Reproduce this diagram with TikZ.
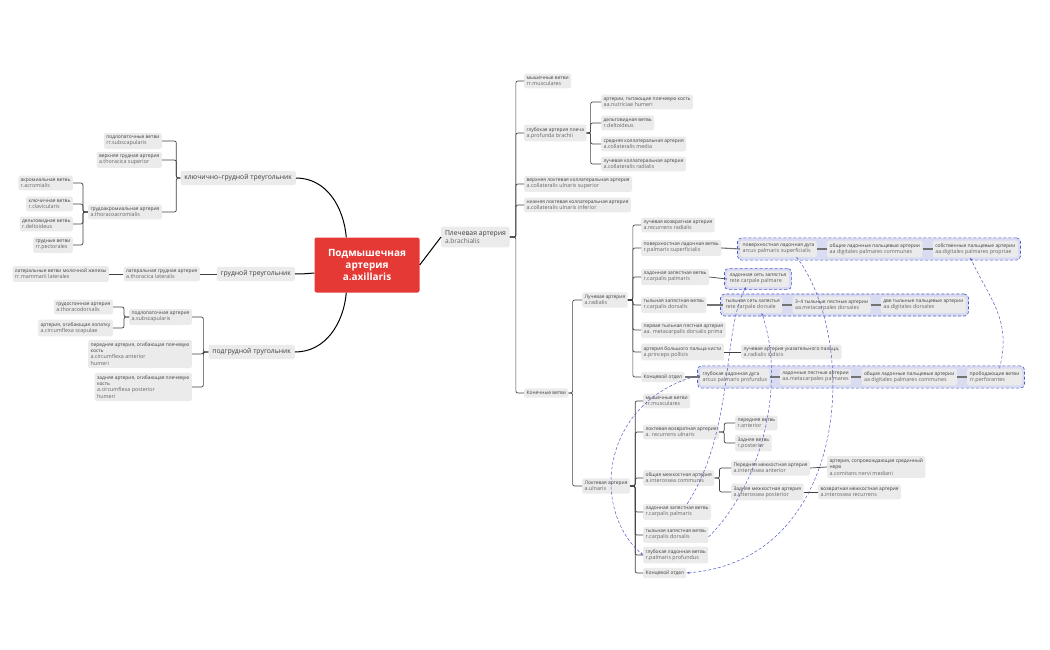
\documentclass[tikz,border=0pt]{standalone}
\usepackage{fontspec}
\setmainfont{Open Sans}
\usetikzlibrary{fit,backgrounds,arrows.meta}
\definecolor{axred}{HTML}{E53935}
\definecolor{gfill}{HTML}{D9DCF1}
\definecolor{gline}{HTML}{4F5BC4}
\newcommand{\la}[1]{{\fontsize{5.4}{6.4}\selectfont\color{black!60}#1}}
\newcommand{\tl}[2]{#1\\\la{#2}}
\begin{document}
\begin{tikzpicture}[x=1pt,y=-1pt,
 b/.style={fill=black!8,rounded corners=1.5pt,align=left,font=\fontsize{4.9}{6.2}\selectfont,text=black!75,inner xsep=2.4pt,inner ysep=2.8pt,anchor=west},
 bl/.style={b,anchor=east},
 big/.style={b,font=\fontsize{6.8}{8}\selectfont,inner sep=3.8pt,text=black!75},
 br/.style={draw=black!75,line width=0.7pt,rounded corners=2pt},
 ch/.style={draw=black!55,line width=1.1pt},
 grp/.style={draw=gline,densely dashed,fill=gfill,rounded corners=4pt,inner sep=2.5pt,line width=0.6pt},
 da/.style={draw=gline,densely dashed,line width=0.5pt,-{Stealth[length=3pt]}}]
\useasboundingbox (0,0) rectangle (1050,650);
% center
\node[fill=axred,rounded corners=2pt,text=white,font=\fontsize{10}{12}\selectfont\bfseries,align=center,minimum width=105pt,minimum height=55pt] (ax) at (367,265) {Подмышечная\\артерия\\a.axillaris};
% left
\node[big,anchor=east] (k1) at (296,178) {ключично–грудной треугольник};
\node[bl] (l1) at (162,141) {\tl{подлопаточные ветви}{rr.subscapularis}};
\node[bl] (l2) at (162,160) {\tl{верхняя грудная артерия}{a.thoracica superior}};
\node[bl] (l3) at (162,212) {\tl{грудоакромиальная артерия}{a.thoracoacromialis}};
\node[bl] (l31) at (73,183) {\tl{акромиальная ветвь}{r.acromialis}};
\node[bl] (l32) at (73,204) {\tl{ключичная ветвь}{r.clavicularis}};
\node[bl] (l33) at (73,224) {\tl{дельтовидная ветвь}{r.deltoideus}};
\node[bl] (l34) at (73,245) {\tl{грудные ветви}{rr.pectorales}};
\node[big,anchor=east] (k2) at (295,274) {грудной треугольник};
\node[bl] (m1) at (200,274) {\tl{латеральная грудная артерия}{a.thoracica lateralis}};
\node[bl] (m2) at (109,274) {\tl{латеральные ветви молочной железы}{rr.mammarii laterales}};
\node[big,anchor=east] (k3) at (295,352) {подгрудной тругольник};
\node[bl] (s1) at (192,317) {\tl{подлопаточная артерия}{a.subscapularis}};
\node[bl] (s11) at (113,307) {\tl{грудоспинная артерия}{a.thoracodorsalis}};
\node[bl] (s12) at (113,328) {\tl{артерия, огибающая лопатку}{a.circumflexa scapulae}};
\node[bl] (s2) at (192,354) {передняя артерия, огибающая плечевую\\кость\\\la{a.circumflexa anterior}\\\la{humeri}};
\node[bl] (s3) at (192,387) {задняя артерия, огибающая плечевую\\кость\\\la{a.circumflexa posterior}\\\la{humeri}};
\draw[line width=1pt] (k1.east) to[out=0,in=95] ([xshift=32pt]ax.north west);
\draw[line width=1pt] (k2.east) to[out=0,in=185] ([yshift=-8pt]ax.west);
\draw[line width=1pt] (k3.east) to[out=0,in=-95] ([xshift=32pt]ax.south west);
\foreach \c in {l1,l2,l3} \draw[br] (k1.west) -- ++(-4,0) |- (\c.east);
\foreach \c in {l31,l32,l33,l34} \draw[br] (l3.west) -- ++(-5,0) |- (\c.east);
\draw[br] (k2.west) -- (m1.east); \draw[br] (m1.west) -- (m2.east);
\foreach \c in {s1,s2,s3} \draw[br] (k3.west) -- ++(-5,0) |- (\c.east);
\foreach \c in {s11,s12} \draw[br] (s1.west) -- ++(-5,0) |- (\c.east);
% right
\node[big] (br) at (441,237) {Плечевая артерия\\{\fontsize{6.6}{8}\selectfont\color{black!60}a.brachialis}};
\draw[line width=1pt] (ax.east) -- (br.west);
\node[b] (b1) at (524,81) {\tl{мышечные ветви}{rr.musculares}};
\node[b] (b2) at (524,133) {\tl{глубокая артерия плеча}{a.profunda brachii}};
\node[b] (b3) at (524,184) {\tl{верхняя локтевая коллатеральная артерия}{a.collateralis ulnaris superior}};
\node[b] (b4) at (524,205) {\tl{нижняя локтевая коллатеральная артерия}{a.collateralis ulnaris inferior}};
\node[b] (b5) at (524,393) {Конечные ветви};
\foreach \c in {b1,b2,b3,b4,b5} \draw[br] (br.east) -- ++(6,0) |- (\c.west);
\node[b] (p1) at (601,102) {\tl{артерии, питающие плечевую кость}{aa.nutriciae humeri}};
\node[b] (p2) at (601,123) {\tl{дельтовидная ветвь}{r.deltoideus}};
\node[b] (p3) at (601,144) {\tl{средняя коллатеральная артерия}{a.collateralis media}};
\node[b] (p4) at (601,164) {\tl{лучевая коллатеральная артерия}{a.collateralis radialis}};
\foreach \c in {p1,p2,p3,p4} \draw[br] (b2.east) -- ++(4,0) |- (\c.west);
\node[b] (ra) at (582,300) {\tl{Лучевая артерия}{a.radialis}};
\node[b] (ul) at (582,486) {\tl{Локтевая артерия}{a.ulnaris}};
\foreach \c in {ra,ul} \draw[br] (b5.east) -- ++(4,0) |- (\c.west);
% radial
\node[b] (r1) at (641,225) {\tl{лучевая возвратная артерия}{a.recurrens radialis}};
\node[b] (r2) at (641,248) {\tl{поверхностная ладонная ветвь}{r.palmaris superficialis}};
\node[b] (r3) at (641,277) {\tl{ладонная запястная ветвь}{r.carpalis palmaris}};
\node[b] (r4) at (641,305) {\tl{тыльная запястная ветвь}{r.carpalis dorsalis}};
\node[b] (r5) at (641,330) {\tl{первая тыльная пястная артерия}{aa. metacarpalis dorsalis prima}};
\node[b] (r6) at (641,352) {\tl{артерия большого пальца кисти}{a.princeps pollicis}};
\node[b] (r7) at (641,377) {Концевой отдел};
\foreach \c in {r1,r2,r3,r4,r5,r6,r7} \draw[br] (ra.east) -- ++(5,0) |- (\c.west);
\node[b] (g11) at (740,249) {\tl{поверхностная ладонная дуга}{arcus palmaris superficialis}};
\node[b] (g12) at ([xshift=10pt]g11.east) {\tl{общие ладонные пальцевые артерии}{aa digitales palmares communes}};
\node[b] (g13) at ([xshift=10pt]g12.east) {\tl{собственные пальцевые артерии}{aa.digitales palmares propriae}};
\node[b] (g21) at (727,279) {\tl{ладонная сеть запястья}{rete carpale palmare}};
\node[b] (g31) at (723,305) {\tl{тыльная сеть запястья}{rete carpale dorsale}};
\node[b] (g32) at ([xshift=10pt]g31.east) {\tl{3–4 тыльные пястные артерии}{aa.metacarpales dorsales}};
\node[b] (g33) at ([xshift=10pt]g32.east) {\tl{две тыльные пальцевые артерии}{aa.digitales dorsales}};
\node[b] (r61) at (741,352) {\tl{лучевая артерия указательного пальца,}{a.radialis indicis}};
\node[b] (g41) at (700,377) {\tl{глубокая ладонная дуга}{arcus palmaris profundus}};
\node[b] (g42) at ([xshift=10pt]g41.east) {\tl{ладонные пястные артерии}{aa.metacarpales palmares}};
\node[b] (g43) at ([xshift=10pt]g42.east) {\tl{общие ладонные пальцевые артерии}{aa digitales palmares communes}};
\node[b] (g44) at ([xshift=10pt]g43.east) {\tl{прободающие ветви}{rr.perforantes}};
\begin{scope}[on background layer]
\node[grp,fit=(g11)(g12)(g13)] (G1) {};
\node[grp,fit=(g21)] (G2) {};
\node[grp,fit=(g31)(g32)(g33)] (G3) {};
\node[grp,fit=(g41)(g42)(g43)(g44)] (G4) {};
\end{scope}
\draw[ch] (r2.east) -- (g11.west); \draw[ch] (g11.east) -- (g12.west); \draw[ch] (g12.east) -- (g13.west);
\draw[br] (r3.east) -- (g21.west);
\draw[ch] (r4.east) -- (g31.west); \draw[ch] (g31.east) -- (g32.west); \draw[ch] (g32.east) -- (g33.west);
\draw[br] (r6.east) -- (r61.west);
\draw[ch] (r7.east) -- (g41.west); \draw[ch] (g41.east) -- (g42.west); \draw[ch] (g42.east) -- (g43.west); \draw[ch] (g43.east) -- (g44.west);
% ulnar
\node[b] (u1) at (643,401) {\tl{мышечные ветви}{rr.musculares}};
\node[b] (u2) at (643,432) {\tl{локтевая возвратная артерия}{a. recurrens ulnaris}};
\node[b] (u3) at (643,478) {\tl{общая межкостная артерия}{a.interossea communis}};
\node[b] (u4) at (643,512) {\tl{ладонная запястная ветвь}{r.carpalis palmaris}};
\node[b] (u5) at (643,535) {\tl{тыльная запястная ветвь}{r.carpalis dorsalis}};
\node[b] (u6) at (643,555) {\tl{глубокая ладонная ветвь}{r.palmaris profundus}};
\node[b] (u7) at (643,573) {Концевой отдел};
\foreach \c in {u1,u2,u3,u4,u5,u6,u7} \draw[br] (ul.east) -- ++(5,0) |- (\c.west);
\node[b] (u21) at (735,423) {\tl{передняя ветвь}{r.anterior}};
\node[b] (u22) at (735,443) {\tl{Задняя ветвь}{r.posterior}};
\foreach \c in {u21,u22} \draw[br] (u2.east) -- ++(5,0) |- (\c.west);
\node[b] (u31) at (731,468) {\tl{Передняя межкостная артерия}{a.interossea anterior}};
\node[b] (u32) at (731,492) {\tl{Задняя межкостная артерия}{a.interossea posterior}};
\foreach \c in {u31,u32} \draw[br] (u3.east) -- ++(5,0) |- (\c.west);
\node[b] (u311) at (827,467) {артерия, сопровождающая срединный\\нерв\\\la{a.comitans nervi mediani}};
\node[b] (u321) at (818,492) {\tl{возвратная межкостная артерия}{a.interossea recurrens}};
\draw[br] (u31.east) -- (u311.west); \draw[br] (u32.east) -- (u321.west);
% dashed links
\draw[da] ([xshift=10pt]u4.north) .. controls (735,430) and (722,330) .. ([xshift=-12pt]g21.south);
\draw[da] ([yshift=-2pt]u5.east) .. controls (765,480) and (785,380) .. ([xshift=9pt]g31.south);
\draw[da] ([xshift=18pt]g11.south) .. controls (860,340) and (850,560) .. (u7.east);
\draw[da] ([xshift=5pt]g44.north) .. controls (1012,320) and (990,300) .. ([xshift=-5pt]g13.south);
\draw[da] ([yshift=2pt]g41.west) .. controls (600,400) and (590,510) .. (u6.west);
\end{tikzpicture}
\end{document}
